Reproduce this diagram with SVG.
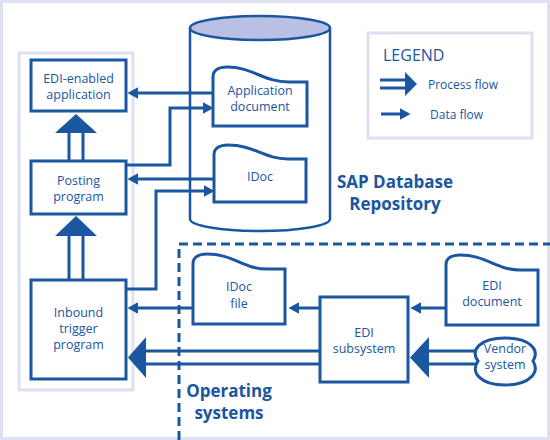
<svg xmlns="http://www.w3.org/2000/svg" width="550" height="440" viewBox="0 0 550 440">
<defs>
<style>
.frame{fill:none;stroke:#dde1f1;stroke-width:3}
.box{fill:#fff;stroke:#1b56a1;stroke-width:3}
.ln{fill:none;stroke:#1b56a1;stroke-width:3}
.dash{fill:none;stroke:#1b56a1;stroke-width:3;stroke-dasharray:9 5}
.head{fill:#1b56a1;stroke:none}
.lbl{font-family:"Open Sans","Noto Sans",sans-serif;font-size:12.5px;fill:#1b56a1;text-anchor:middle}
.big{font-family:"Open Sans","Noto Sans",sans-serif;font-size:17px;font-weight:bold;fill:#1b56a1;text-anchor:middle}
.leg{font-family:"Open Sans","Noto Sans",sans-serif;font-size:12px;fill:#1b56a1}
</style>
<marker id="arr" markerUnits="userSpaceOnUse" markerWidth="11" markerHeight="12" viewBox="0 0 10 11" refX="4" refY="5.5" orient="auto">
<path d="M0,0 L10,5.5 L0,11 Z" fill="#1b56a1"/>
</marker>
</defs>
<rect width="550" height="440" fill="#fff"/>
<rect class="frame" x="1.5" y="1.5" width="547" height="437"/>
<rect class="frame" x="19" y="53" width="114" height="337" stroke-width="2.5"/>

<g id="dashed-region">
<path class="dash" d="M179,440 V244 H550"/>
</g>

<g id="sap-database">
<path d="M190,28 V219 A70,12 0 0 0 330,219 V28" fill="#fff" stroke="#1b56a1" stroke-width="2.5"/>
<ellipse cx="260" cy="28" rx="70" ry="12" fill="#b9c0e3" stroke="#1b56a1" stroke-width="2.5"/>
<text class="big" x="395" y="188">SAP Database</text>
<text class="big" x="395" y="210">Repository</text>
</g>

<g id="operating-systems">
<text class="big" x="229" y="397">Operating</text>
<text class="big" x="229" y="419">systems</text>
</g>

<g id="connectors">
<path class="ln" d="M213,93 H134" marker-end="url(#arr)"/>
<path class="ln" d="M126,165 H170 V108 H207" marker-end="url(#arr)"/>
<path class="ln" d="M214,179 H134" marker-end="url(#arr)"/>
<path class="ln" d="M126,289 H156 V191 H208" marker-end="url(#arr)"/>
<path class="ln" d="M193,308 H134" marker-end="url(#arr)"/>
<path class="ln" d="M320,308 H295" marker-end="url(#arr)"/>
<path class="ln" d="M446,308 H417" marker-end="url(#arr)"/>
<path class="ln" d="M69,161 V131 M83,161 V131"/>
<polygon class="head" points="76,114 97,133 55,133"/>
<path class="ln" d="M69,280 V234 M83,280 V234"/>
<polygon class="head" points="76,216 97,236 55,236"/>
<path class="ln" d="M320,351 H144 M320,364 H144"/>
<polygon class="head" points="128,357.5 146,337 146,378"/>
<path class="ln" d="M480,351 H427 M480,364 H427"/>
<polygon class="head" points="410,357.5 429,337 429,378"/>
</g>

<g id="edi-enabled-application">
<rect class="box" x="31" y="60" width="95" height="51"/>
<text class="lbl" x="78.5" y="83">EDI-enabled</text>
<text class="lbl" x="78.5" y="99">application</text>
</g>

<g id="posting-program">
<rect class="box" x="31" y="161" width="95" height="53"/>
<text class="lbl" x="78.5" y="185">Posting</text>
<text class="lbl" x="78.5" y="201">program</text>
</g>

<g id="inbound-trigger-program">
<rect class="box" x="31" y="280" width="95" height="99"/>
<text class="lbl" x="78.5" y="317">Inbound</text>
<text class="lbl" x="78.5" y="333">trigger</text>
<text class="lbl" x="78.5" y="349">program</text>
</g>

<g id="application-document">
<path class="box" d="M213,126 V77 C213,70 219,67 227,67 C253,67 263,82 289,82 H307 V126 Z"/>
<text class="lbl" x="260" y="95">Application</text>
<text class="lbl" x="260" y="111">document</text>
</g>

<g id="idoc">
<path class="box" d="M214,202 V155 C214,148 220,145 228,145 C254,145 264,159 288,159 H306 V202 Z"/>
<text class="lbl" x="260" y="181">IDoc</text>
</g>

<g id="idoc-file">
<path class="box" d="M193,324 V264 C193,257 199,254 207,254 C233,254 243,269 267,269 H285 V324 Z"/>
<text class="lbl" x="239" y="291">IDoc</text>
<text class="lbl" x="239" y="308">file</text>
</g>

<g id="edi-subsystem">
<rect class="box" x="320" y="297" width="88" height="85"/>
<text class="lbl" x="364" y="337">EDI</text>
<text class="lbl" x="364" y="353">subsystem</text>
</g>

<g id="edi-document">
<path class="box" d="M446,325 V265 C446,258 452,255 460,255 C486,255 496,270 520,270 H538 V325 Z"/>
<text class="lbl" x="492" y="290">EDI</text>
<text class="lbl" x="492" y="306">document</text>
</g>

<g id="vendor-system">
<path class="box" d="M478,361 C470,350 480,338 505,338 C530,338 540,350 533,361 C540,372 530,385 505,385 C480,385 470,372 478,361 Z"/>
<text class="lbl" x="505" y="353">Vendor</text>
<text class="lbl" x="505" y="369">system</text>
</g>

<g id="legend">
<rect class="frame" x="368" y="33" width="164" height="105"/>
<text x="383" y="61" font-family="'Open Sans','Noto Sans',sans-serif" font-size="16" fill="#1b56a1">LEGEND</text>
<path class="ln" d="M380,80 H406 M380,88 H406"/>
<polygon class="head" points="405,72 417,84 405,96"/>
<text class="leg" x="428" y="89">Process flow</text>
<path class="ln" d="M381,114 H404" marker-end="url(#arr)"/>
<text class="leg" x="430" y="119">Data flow</text>
</g>
</svg>
